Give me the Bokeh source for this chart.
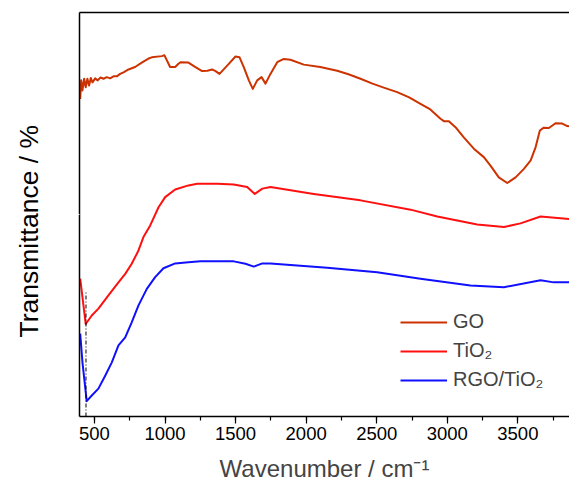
from bokeh.plotting import figure
from bokeh.models import (Range1d, LinearAxis, FixedTicker, SingleIntervalTicker,
                          Legend, LegendItem, Title)
from bokeh.embed import file_html
from bokeh.resources import INLINE

# FTIR spectra (transmittance, arbitrary offset units) vs wavenumber / cm^-1
go_wn = [399, 406, 415, 427, 438, 450, 462, 474, 486, 505, 523, 543, 564, 587, 611,
         635, 658, 682, 706, 741, 788, 835, 883, 906, 977, 996, 1036, 1072, 1095,
         1110, 1166, 1210, 1263, 1300, 1334, 1358, 1386, 1452, 1499, 1528, 1558,
         1594, 1622, 1653, 1684, 1712, 1747, 1795, 1842, 1889, 1983, 2100, 2220,
         2300, 2385, 2470, 2550, 2645, 2730, 2810, 2880, 2952, 2976, 3011, 3058,
         3117, 3188, 3259, 3306, 3365, 3425, 3484, 3543, 3591, 3626, 3656, 3684,
         3720, 3767, 3815, 3850, 3866]
go_t = [78.6, 83.2, 80.7, 83.6, 81.5, 83.6, 81.9, 83.8, 82.7, 83.7, 83.2, 83.9, 83.6,
        84.0, 83.7, 84.2, 84.2, 84.8, 85.2, 85.9, 86.5, 87.6, 88.6, 88.9, 89.2, 89.4,
        86.5, 86.5, 87.3, 87.7, 87.6, 86.6, 85.5, 85.6, 85.9, 85.5, 84.8, 87.3, 89.1,
        88.9, 86.5, 83.2, 81.1, 83.2, 84.0, 82.4, 84.8, 87.7, 88.5, 88.3, 87.1, 86.5,
        85.6, 84.7, 83.6, 82.4, 81.4, 80.3, 79.0, 77.4, 76.0, 73.7, 73.1, 73.1, 71.6,
        69.1, 66.3, 64.2, 62.1, 59.2, 57.8, 59.2, 61.3, 63.4, 66.7, 70.8, 71.5, 71.4,
        72.6, 72.5, 71.9, 71.8]

tio2_wn = [399, 438, 481, 528, 599, 670, 718, 764, 812, 847, 895, 954, 1001, 1072,
           1166, 1228, 1370, 1487, 1582, 1636, 1690, 1747, 2054, 2385, 2740, 2929,
           3212, 3401, 3519, 3661, 3866]
tio2_t = [34.1, 22.9, 25.0, 26.7, 30.0, 33.2, 35.3, 37.8, 41.1, 44.4, 47.3, 51.8, 54.3,
          56.2, 57.2, 57.6, 57.6, 57.4, 56.8, 55.1, 56.4, 56.8, 55.1, 53.5, 51.2, 49.5,
          47.5, 46.9, 47.8, 49.5, 48.9]

rgo_wn = [399, 415, 445, 481, 528, 576, 623, 670, 718, 764, 812, 871, 930, 989, 1072,
          1166, 1251, 1487, 1570, 1629, 1690, 1747, 2149, 2503, 2810, 3164, 3401, 3661,
          3755, 3866]
rgo_t = [20.5, 13.4, 3.8, 5.2, 6.9, 10.1, 13.4, 17.6, 19.6, 23.3, 27.5, 31.6, 34.5,
         36.7, 37.9, 38.2, 38.4, 38.4, 37.8, 37.1, 37.9, 37.9, 36.8, 35.7, 34.1, 32.4,
         32.0, 33.7, 33.2, 33.2]

# Ti-O-Ti band marker
band_wn = [440, 440]
band_t = [0, 30.8]

FONT = "Liberation Sans"

p = figure(width=569, height=486, output_backend="svg", toolbar_location=None,
           x_range=Range1d(394, 3866), y_range=Range1d(0, 100),
           x_axis_type=None, y_axis_type=None,
           min_border_left=79, min_border_right=0, min_border_top=12,
           min_border_bottom=70)
p.outline_line_color = None
p.xgrid.visible = False
p.ygrid.visible = False
p.background_fill_color = "white"
p.border_fill_color = "white"

xaxis = LinearAxis(ticker=SingleIntervalTicker(interval=500, num_minor_ticks=2),
                   axis_label="Wavenumber / cm⁻¹")
xaxis.axis_line_width = 1.5
xaxis.major_tick_in = 0
xaxis.major_tick_out = 7
xaxis.minor_tick_in = 0
xaxis.minor_tick_out = 4
xaxis.major_tick_line_width = 1.2
xaxis.minor_tick_line_width = 1.2
xaxis.major_label_text_font = FONT
xaxis.major_label_text_font_size = "18.5px"
xaxis.major_label_text_color = "black"
xaxis.major_label_standoff = 3
xaxis.axis_label_text_font = FONT
xaxis.axis_label_text_font_size = "24px"
xaxis.axis_label_text_font_style = "normal"
xaxis.axis_label_standoff = 12
p.add_layout(xaxis, "below")

# left frame edge; one blank white tick reserves a gap before the axis title
yaxis = LinearAxis(ticker=FixedTicker(ticks=[50]))
yaxis.axis_line_width = 1.5
yaxis.major_tick_in = 0
yaxis.major_tick_out = 21
yaxis.major_tick_line_color = "white"
yaxis.minor_tick_line_color = None
yaxis.major_label_standoff = 0
yaxis.major_label_overrides = {50: ""}
yaxis.major_label_text_font_size = "0px"
p.add_layout(yaxis, "left")

# vertical axis title
p.add_layout(Title(text="Transmittance / %", align="left", offset=79,
                   vertical_align="top", standoff=26, text_font=FONT,
                   text_font_size="26.5px", text_font_style="normal",
                   text_color="black"), "left")

# frame top edge (the frame has no right edge)
top = LinearAxis(ticker=FixedTicker(ticks=[]))
top.axis_line_width = 1.5
top.major_tick_line_color = None
top.minor_tick_line_color = None
top.major_label_text_font_size = "0px"
p.add_layout(top, "above")

r_go = p.line(go_wn, go_t, line_color="#cc3300", line_width=2, line_join="round")
r_ti = p.line(tio2_wn, tio2_t, line_color="#ff1010", line_width=2, line_join="round")
r_rgo = p.line(rgo_wn, rgo_t, line_color="#1010ff", line_width=2, line_join="round")
p.line(band_wn, band_t, line_color="black", line_width=1, line_dash="4 2 1 2")

legend = Legend(items=[LegendItem(label="GO", renderers=[r_go]),
                       LegendItem(label="TiO₂", renderers=[r_ti]),
                       LegendItem(label="RGO/TiO₂", renderers=[r_rgo])],
                location=(321, 25))
legend.border_line_color = None
legend.background_fill_alpha = 0
legend.padding = 0
legend.margin = 0
legend.spacing = 6
legend.glyph_width = 47
legend.glyph_height = 20
legend.label_height = 20
legend.label_standoff = 6
legend.label_text_font = FONT
legend.label_text_font_size = "20px"
p.add_layout(legend, "center")

open("out.html", "w").write(file_html(p, INLINE))
